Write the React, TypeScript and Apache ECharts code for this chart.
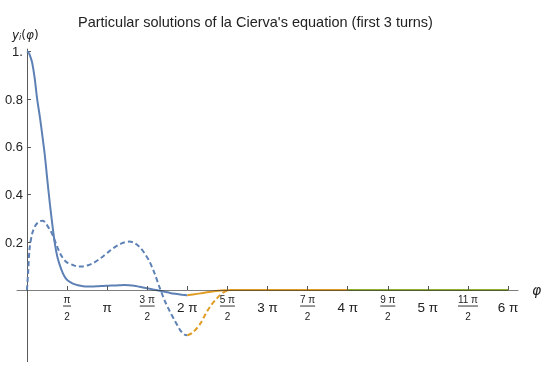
import React, { useEffect, useRef } from "react";
import * as echarts from "echarts";

const PI = Math.PI;

// Turn 1 (blue): phi in [0, 2π]
const turn1Phi = [0, 0.05, 0.1, 0.2, 0.3, 0.4, 0.5, 0.6, 0.7, 0.8, 0.9, 1.0, 1.1, 1.2, 1.3, 1.4, 1.5, 1.6, 1.8, 2.0, 2.2, 2.4, 2.6, 2.8, 3.0, 3.2, 3.4, 3.6, 3.8, 4.0, 4.2, 4.4, 4.6, 4.8, 5.0, 5.2, 5.4, 5.6, 5.8, 6.0, 6.1, 6.2, 6.2832];
const turn1Solid = [1.0, 0.997, 0.988, 0.955, 0.89, 0.80, 0.73, 0.65, 0.565, 0.46, 0.36, 0.27, 0.19, 0.135, 0.1, 0.072, 0.052, 0.04, 0.027, 0.02, 0.016, 0.015, 0.015, 0.016, 0.017, 0.018, 0.019, 0.02, 0.021, 0.02, 0.018, 0.014, 0.01, 0.005, 0.001, -0.003, -0.007, -0.012, -0.016, -0.019, -0.02, -0.021, -0.022];
const turn1Dashed = [0, 0.08, 0.17, 0.235, 0.264, 0.28, 0.288, 0.29, 0.285, 0.27, 0.252, 0.232, 0.205, 0.178, 0.153, 0.135, 0.122, 0.114, 0.105, 0.099, 0.099, 0.104, 0.113, 0.127, 0.143, 0.16, 0.177, 0.19, 0.199, 0.203, 0.198, 0.182, 0.155, 0.12, 0.07, 0.01, -0.045, -0.09, -0.13, -0.168, -0.18, -0.188, -0.19];

// Turn 2 (orange): phi in [2π, 4π]
const turn2Phi = [6.2832, 6.5, 6.8, 7.0, 7.2, 7.4, 7.6, 7.8, 8.0, 8.5, 9.0, 10.0, 11.0, 12.0, 12.5664];
const turn2Solid = [-0.022, -0.019, -0.014, -0.01, -0.007, -0.004, -0.002, -0.001, 0, 0, 0, 0, 0, 0, 0];
const turn2Dashed = [-0.19, -0.178, -0.14, -0.1, -0.066, -0.04, -0.018, -0.004, 0, 0, 0, 0, 0, 0, 0];

// Turn 3 (green): phi in [4π, 6π]
const turn3Phi = [12.5664, 14.1372, 15.708, 17.2788, 18.8496];
const turn3Solid = [0, 0, 0, 0, 0];
const turn3Dashed = [0, 0, 0, 0, 0];

// Axis ticks
const xTickValues = [1, 2, 3, 4, 5, 6, 7, 8, 9, 10, 11, 12].map((k) => (k * PI) / 2);
const xTickLabels = ["π/2", "π", "3 π/2", "2 π", "5 π/2", "3 π", "7 π/2", "4 π", "9 π/2", "5 π", "11 π/2", "6 π"];
const yTickValues = [0.2, 0.4, 0.6, 0.8, 1.0];
const yTickLabels = ["0.2", "0.4", "0.6", "0.8", "1."];

const BLUE = "#5E81B5";
const ORANGE = "#E09C24";
const GREEN = "#8FB032";

const pairs = (xs: number[], ys: number[]) => xs.map((x, i) => [x, ys[i]]);

const X_MIN = -0.39;
const X_MAX = 6 * PI + 0.39;
const Y_MIN = -0.3;
const Y_MAX = 1.01;
const GRID_LEFT = 17;
const GRID_TOP = 49.1;
const GRID_W = 501;
const GRID_H = 312.5;

export default function App() {
  const ref = useRef<HTMLDivElement>(null);
  useEffect(() => {
    if (!ref.current) return;
    const chart = echarts.init(ref.current, null, { renderer: "svg" });
    const dashed = (name: string, xs: number[], ys: number[], color: string) => ({
      name,
      type: "line",
      data: pairs(xs, ys),
      showSymbol: false,
      smooth: 0.3,
      z: 2,
      lineStyle: { color, width: 2, type: [5, 3] },
    });
    const solid = (name: string, xs: number[], ys: number[], color: string) => ({
      name,
      type: "line",
      data: pairs(xs, ys),
      showSymbol: false,
      smooth: 0.3,
      z: 2,
      lineStyle: { color, width: 2, type: "solid" },
    });
    const labelColor = "#222";
    // offsets to put the axes through the origin
    const xOffset = -(GRID_H * (0 - Y_MIN)) / (Y_MAX - Y_MIN);
    const yOffset = -(GRID_W * (0 - X_MIN)) / (X_MAX - X_MIN);
    chart.setOption({
      animation: false,
      title: {
        text: "Particular solutions of la Cierva's equation (first 3 turns)",
        left: 73,
        top: 9,
        textStyle: { fontFamily: "Liberation Sans", fontSize: 14.5, fontWeight: "normal", color: "#222" },
      },
      grid: {
        left: GRID_LEFT,
        top: GRID_TOP,
        width: GRID_W,
        height: GRID_H,
        containLabel: false,
        outerBoundsMode: "none",
      },
      xAxis: {
        type: "value",
        min: X_MIN,
        max: X_MAX,
        position: "bottom",
        offset: xOffset,
        z: 3,
        name: "φ",
        nameLocation: "end",
        nameGap: 14,
        nameTextStyle: { fontFamily: "DejaVu Sans", fontStyle: "italic", fontSize: 14, color: labelColor },
        axisLine: { onZero: false, lineStyle: { color: "rgba(40,40,40,0.6)", width: 1 } },
        axisTick: { inside: true, length: 4, customValues: xTickValues, lineStyle: { color: "#555" } },
        splitLine: { show: false },
        axisLabel: {
          customValues: xTickValues,
          margin: 4,
          fontFamily: "Liberation Sans",
          color: labelColor,
          formatter: (v: number) => {
            const idx = Math.round(v / (PI / 2)) - 1;
            const s = xTickLabels[idx] || "";
            if (s.indexOf("/") >= 0) {
              const [n, d] = s.split("/");
              const bar = n.length > 3 ? "barL" : n.length > 1 ? "barM" : "barS";
              return "{num|" + n + "}\n{" + bar + "| }\n{den|" + d + "}";
            }
            return "{int|" + s + "}";
          },
          rich: {
            int: { fontSize: 13.5, lineHeight: 27, color: labelColor, fontFamily: "Liberation Sans" },
            num: { fontSize: 10, lineHeight: 11, color: labelColor, fontFamily: "Liberation Sans" },
            den: { fontSize: 10, lineHeight: 19, color: labelColor, fontFamily: "Liberation Sans" },
            barS: { width: 8, height: 1, lineHeight: 2, fontSize: 1, backgroundColor: "#333" },
            barM: { width: 15, height: 1, lineHeight: 2, fontSize: 1, backgroundColor: "#333" },
            barL: { width: 20, height: 1, lineHeight: 2, fontSize: 1, backgroundColor: "#333" },
          },
        },
      },
      yAxis: {
        type: "value",
        min: Y_MIN,
        max: Y_MAX,
        position: "left",
        offset: yOffset,
        axisLine: { onZero: false, lineStyle: { color: "#5a5a5a", width: 1 } },
        axisTick: { inside: true, length: 4, customValues: yTickValues, lineStyle: { color: "#555" } },
        splitLine: { show: false },
        axisLabel: {
          customValues: yTickValues,
          margin: 4,
          fontSize: 13,
          fontFamily: "Liberation Sans",
          color: labelColor,
          formatter: (v: number) => {
            const idx = yTickValues.findIndex((t) => Math.abs(t - v) < 1e-6);
            return idx >= 0 ? yTickLabels[idx] : "";
          },
        },
      },
      graphic: [
        {
          type: "text",
          left: 12,
          top: 29,
          style: {
            text: "{it|y}{sub|i}{up|(}{it|φ}{up|)}",
            rich: {
              it: { fontFamily: "DejaVu Sans", fontStyle: "italic", fontSize: 12, fill: labelColor, color: labelColor },
              sub: { fontFamily: "DejaVu Sans", fontStyle: "italic", fontSize: 8, fill: labelColor, color: labelColor, padding: [5, 0, 0, 0] },
              up: { fontFamily: "DejaVu Sans", fontSize: 12, fill: labelColor, color: labelColor },
            },
          },
        },
      ],
      series: [
        dashed("turn1 dashed", turn1Phi, turn1Dashed, BLUE),
        solid("turn1 solid", turn1Phi, turn1Solid, BLUE),
        dashed("turn2 dashed", turn2Phi, turn2Dashed, ORANGE),
        solid("turn2 solid", turn2Phi, turn2Solid, ORANGE),
        dashed("turn3 dashed", turn3Phi, turn3Dashed, GREEN),
        solid("turn3 solid", turn3Phi, turn3Solid, GREEN),
      ],
    });
    return () => chart.dispose();
  }, []);
  return <div ref={ref} style={{ position: "fixed", left: 0, top: 0, width: 550, height: 370 }} />;
}
